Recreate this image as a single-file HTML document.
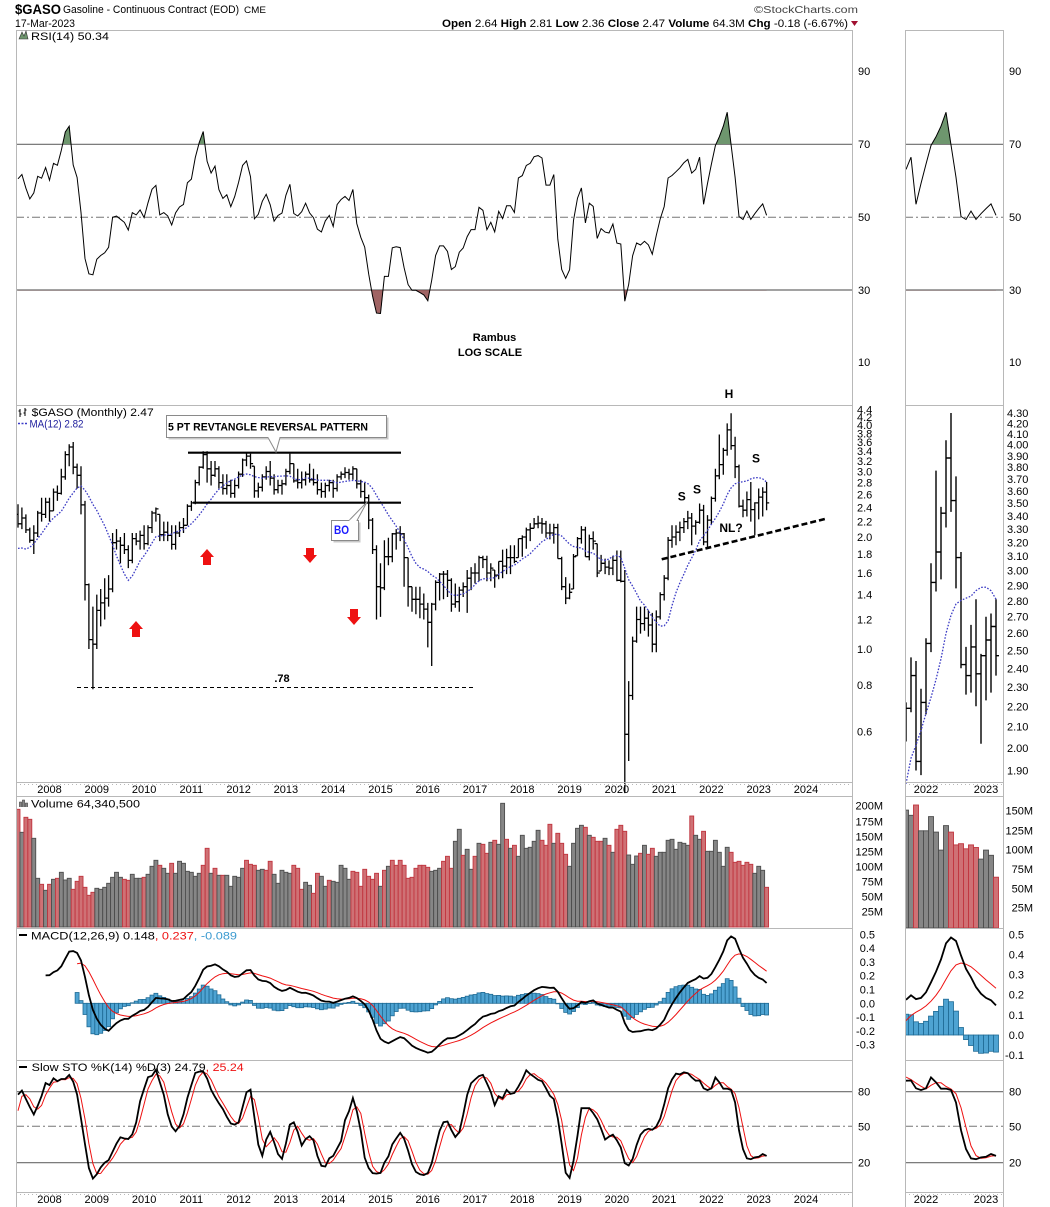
<!DOCTYPE html>
<html><head><meta charset="utf-8">
<style>
html,body{margin:0;padding:0;background:#fff;}
svg{display:block;}
text{font-family:"Liberation Sans",Arial,sans-serif;}
</style></head><body>
<svg id="c" width="1050" height="1207" viewBox="0 0 1050 1207" xmlns="http://www.w3.org/2000/svg">
<defs>
<clipPath id="chi"><rect x="16" y="30" width="837" height="114"/><rect x="905" y="30" width="98" height="114"/></clipPath>
<clipPath id="clo"><rect x="16" y="290" width="837" height="115"/><rect x="905" y="290" width="98" height="115"/></clipPath>
<clipPath id="cm"><rect x="17" y="0" width="835.5" height="1207"/></clipPath>
<clipPath id="ci"><rect x="906" y="0" width="97" height="1207"/></clipPath>
</defs>
<rect width="1050" height="1207" fill="#fff"/>

<!-- grid lines -->
<g stroke="#6a6a6a" stroke-width="1.2" fill="none">
<path d="M16 144.3H853M16 290H853M905 144.3H1003M905 290H1003"/>
<path d="M16 1091.7H853M16 1162.7H853M905 1091.7H1003M905 1162.7H1003"/>
</g>
<g stroke="#777" stroke-width="1" fill="none" stroke-dasharray="8,3,2,3">
<path d="M16 217.3H853M905 217.3H1003M16 1126.3H853M905 1126.3H1003"/>
</g>

<g id="dyn"></g>

<!-- annotations -->
<g>
<path d="M188 452.7H401M193 502.7H401" stroke="#000" stroke-width="2.2"/>
<path d="M77 687.5H476" stroke="#000" stroke-width="1" stroke-dasharray="4,3"/>
<path d="M661.7 559.3L827.7 518.3" stroke="#000" stroke-width="2.6" stroke-dasharray="6,3"/>
<rect x="168.5" y="417.5" width="220" height="22" fill="#c8c8c8"/>
<rect x="166.5" y="415.5" width="220" height="22" fill="#fff" stroke="#8a8a8a"/>
<path d="M268 437.5L276 452L280 437.5" fill="#fff" stroke="#8a8a8a"/>
<path d="M268.5 437.5H279.5" stroke="#fff" stroke-width="1.5"/>
<text x="168" y="430.5" font-size="11" font-weight="bold" textLength="200" lengthAdjust="spacingAndGlyphs">5 PT REVTANGLE REVERSAL PATTERN</text>
<rect x="333.5" y="522.5" width="27" height="20" fill="#c8c8c8"/>
<rect x="331.5" y="520.5" width="27" height="20" fill="#fff" stroke="#8a8a8a"/>
<path d="M349 520.5L367 502L357 520.5" fill="#fff" stroke="#8a8a8a"/>
<path d="M349.5 520.5H356.5" stroke="#fff" stroke-width="1.5"/>
<text x="334" y="534" font-size="12" font-weight="bold" fill="#1a1aff" textLength="15" lengthAdjust="spacingAndGlyphs">BO</text>
<g fill="#ee1111">
<path d="M207 549L214 557L211 557L211 565L203 565L203 557L200 557Z"/>
<path d="M136 621L143 629L140 629L140 637L132 637L132 629L129 629Z"/>
<path d="M306 548L314 548L314 555L317 555L310 563L303 555L306 555Z"/>
<path d="M350 609L358 609L358 617L361 617L354 625L347 617L350 617Z"/>
</g>
<g font-size="12" font-weight="bold" text-anchor="middle">
<text x="282" y="682" font-size="11">.78</text>
<text x="729" y="398">H</text>
<text x="681.7" y="500.5">S</text>
<text x="697" y="493.5">S</text>
<text x="756" y="462.5">S</text>
<text x="731" y="532">NL?</text>
<text x="494.5" y="341" font-size="11">Rambus</text>
<text x="490" y="356" font-size="11">LOG SCALE</text>
</g>
</g>

<!-- frames -->
<g fill="none" stroke="#b8b8b8" stroke-width="1">
<rect x="16.5" y="30.5" width="836" height="375"/>
<rect x="16.5" y="405.5" width="836" height="377"/>
<rect x="16.5" y="796.5" width="836" height="132"/>
<rect x="16.5" y="928.5" width="836" height="132"/>
<rect x="16.5" y="1060.5" width="836" height="132"/>
<path d="M16.5 782.5V796.5M852.5 782.5V796.5M16.5 1192.5V1207M852.5 1192.5V1207"/>
<rect x="905.5" y="30.5" width="98" height="375"/>
<rect x="905.5" y="405.5" width="98" height="377"/>
<rect x="905.5" y="796.5" width="98" height="132"/>
<rect x="905.5" y="928.5" width="98" height="132"/>
<rect x="905.5" y="1060.5" width="98" height="132"/>
<path d="M905.5 782.5V796.5M1003.5 782.5V796.5M905.5 1192.5V1207M1003.5 1192.5V1207"/>
</g>
<g fill="none" stroke="#b8b8b8" stroke-width="1" stroke-dasharray="1,3">
<path d="M16 784.5H853M905 784.5H1003M16 1194.5H853M905 1194.5H1003"/>
</g>

<!-- header -->
<text x="15" y="14" font-size="14" font-weight="bold" textLength="46" lengthAdjust="spacingAndGlyphs">$GASO</text>
<text x="63" y="13" font-size="11" textLength="176" lengthAdjust="spacingAndGlyphs">Gasoline - Continuous Contract (EOD)</text>
<text x="244" y="13" font-size="9" textLength="22" lengthAdjust="spacingAndGlyphs">CME</text>
<text x="15" y="27" font-size="11" textLength="60" lengthAdjust="spacingAndGlyphs">17-Mar-2023</text>
<text x="754" y="13" font-size="10" fill="#444" textLength="104" lengthAdjust="spacingAndGlyphs">©StockCharts.com</text>
<text x="442" y="27" font-size="11" textLength="406" lengthAdjust="spacingAndGlyphs"><tspan font-weight="bold">Open</tspan> 2.64 <tspan font-weight="bold">High</tspan> 2.81 <tspan font-weight="bold">Low</tspan> 2.36 <tspan font-weight="bold">Close</tspan> 2.47 <tspan font-weight="bold">Volume</tspan> 64.3M <tspan font-weight="bold">Chg</tspan> -0.18 (-6.67%)</text>
<path d="M851 21L858 21L854.5 26Z" fill="#a01030"/>

<!-- legends -->
<path d="M19 39L22 32L24 36L26 31L28 39Z" fill="#6e966e" stroke="#333" stroke-width="0.6"/>
<text x="31" y="40" font-size="11" textLength="78" lengthAdjust="spacingAndGlyphs">RSI(14) 50.34</text>
<path d="M20 409V417M18.5 411H20M20 414H21.5M25 408V416M23.5 413H25M25 410H26.5" stroke="#000" stroke-width="1"/>
<text x="31.7" y="416" font-size="11" textLength="122" lengthAdjust="spacingAndGlyphs">$GASO (Monthly) 2.47</text>
<path d="M18 423.5H28" stroke="#3a3ac8" stroke-width="1.5" stroke-dasharray="2,1.5"/>
<text x="29.5" y="427.5" font-size="11" fill="#1c1c9c" textLength="54" lengthAdjust="spacingAndGlyphs">MA(12) 2.82</text>
<path d="M19.5 807V802H21.5V807M22.5 807V800H24.5V807M25.5 807V803H27.5V807" fill="#888" stroke="#333" stroke-width="0.6"/>
<text x="31" y="807.5" font-size="11" textLength="109" lengthAdjust="spacingAndGlyphs">Volume 64,340,500</text>
<path d="M19 935H27" stroke="#000" stroke-width="2"/>
<text x="31" y="939.5" font-size="11" textLength="206" lengthAdjust="spacingAndGlyphs">MACD(12,26,9) 0.148<tspan fill="#ee1111">, 0.237</tspan><tspan fill="#3a9ad0">, -0.089</tspan></text>
<path d="M19 1067H27" stroke="#000" stroke-width="2"/>
<text x="31.7" y="1071" font-size="11" textLength="212" lengthAdjust="spacingAndGlyphs">Slow STO %K(14) %D(3) 24.79<tspan fill="#ee1111">, 25.24</tspan></text>

<!-- axis labels -->
<g font-size="11" fill="#000">
<text x="858" y="75">90</text><text x="858" y="148">70</text><text x="858" y="221">50</text><text x="858" y="294">30</text><text x="858" y="366">10</text>
<text x="1009" y="75">90</text><text x="1009" y="148">70</text><text x="1009" y="221">50</text><text x="1009" y="294">30</text><text x="1009" y="366">10</text>
<text x="857" y="413.6">4.4</text><text x="857" y="421.1">4.2</text><text x="857" y="429">4.0</text><text x="857" y="437.3">3.8</text><text x="857" y="446">3.6</text><text x="857" y="455.2">3.4</text><text x="857" y="465">3.2</text><text x="857" y="475.5">3.0</text><text x="857" y="486.6">2.8</text><text x="857" y="498.6">2.6</text><text x="857" y="511.5">2.4</text><text x="857" y="525.6">2.2</text><text x="857" y="541">2.0</text><text x="857" y="558">1.8</text><text x="857" y="577">1.6</text><text x="857" y="598.6">1.4</text><text x="857" y="623.5">1.2</text><text x="857" y="653">1.0</text><text x="857" y="689.1">0.8</text><text x="857" y="735.5">0.6</text>
<text x="1007" y="417">4.30</text><text x="1007" y="427.3">4.20</text><text x="1007" y="437.9">4.10</text><text x="1007" y="448.7">4.00</text><text x="1007" y="459.8">3.90</text><text x="1007" y="471.1">3.80</text><text x="1007" y="482.8">3.70</text><text x="1007" y="494.8">3.60</text><text x="1007" y="507.1">3.50</text><text x="1007" y="519.8">3.40</text><text x="1007" y="532.8">3.30</text><text x="1007" y="546.3">3.20</text><text x="1007" y="560.2">3.10</text><text x="1007" y="574.6">3.00</text><text x="1007" y="589.4">2.90</text><text x="1007" y="604.8">2.80</text><text x="1007" y="620.7">2.70</text><text x="1007" y="637.2">2.60</text><text x="1007" y="654.4">2.50</text><text x="1007" y="672.3">2.40</text><text x="1007" y="690.9">2.30</text><text x="1007" y="710.3">2.20</text><text x="1007" y="730.7">2.10</text><text x="1007" y="752">2.00</text><text x="1007" y="774.5">1.90</text>
<g text-anchor="end">
<text x="883" y="809.7">200M</text><text x="883" y="825.3">175M</text><text x="883" y="840.7">150M</text><text x="883" y="855.7">125M</text><text x="883" y="870.7">100M</text><text x="883" y="885.7">75M</text><text x="883" y="900.7">50M</text><text x="883" y="915.7">25M</text>
<text x="1033" y="814.7">150M</text><text x="1033" y="834.5">125M</text><text x="1033" y="853.7">100M</text><text x="1033" y="872.9">75M</text><text x="1033" y="892.7">50M</text><text x="1033" y="911.7">25M</text>
<text x="875" y="938.3">0.5</text><text x="875" y="952.1">0.4</text><text x="875" y="965.9">0.3</text><text x="875" y="979.7">0.2</text><text x="875" y="993.5">0.1</text><text x="875" y="1007.3">0.0</text><text x="875" y="1021.1">-0.1</text><text x="875" y="1034.9">-0.2</text><text x="875" y="1048.7">-0.3</text>
<text x="1024" y="938.3">0.5</text><text x="1024" y="958.5">0.4</text><text x="1024" y="978.6">0.3</text><text x="1024" y="998.7">0.2</text><text x="1024" y="1018.9">0.1</text><text x="1024" y="1039">0.0</text><text x="1024" y="1059.1">-0.1</text>
</g>
<text x="858" y="1095.7">80</text><text x="858" y="1130.3">50</text><text x="858" y="1166.7">20</text>
<text x="1009" y="1095.7">80</text><text x="1009" y="1130.3">50</text><text x="1009" y="1166.7">20</text>
<g text-anchor="middle">
<text x="49.5" y="793">2008</text><text x="96.8" y="793">2009</text><text x="144.1" y="793">2010</text><text x="191.3" y="793">2011</text><text x="238.6" y="793">2012</text><text x="285.9" y="793">2013</text><text x="333.2" y="793">2014</text><text x="380.5" y="793">2015</text><text x="427.7" y="793">2016</text><text x="475" y="793">2017</text><text x="522.3" y="793">2018</text><text x="569.6" y="793">2019</text><text x="616.9" y="793">2020</text><text x="664.1" y="793">2021</text><text x="711.4" y="793">2022</text><text x="758.7" y="793">2023</text><text x="806" y="793">2024</text>
<text x="926" y="793">2022</text><text x="986" y="793">2023</text>
<text x="49.5" y="1203">2008</text><text x="96.8" y="1203">2009</text><text x="144.1" y="1203">2010</text><text x="191.3" y="1203">2011</text><text x="238.6" y="1203">2012</text><text x="285.9" y="1203">2013</text><text x="333.2" y="1203">2014</text><text x="380.5" y="1203">2015</text><text x="427.7" y="1203">2016</text><text x="475" y="1203">2017</text><text x="522.3" y="1203">2018</text><text x="569.6" y="1203">2019</text><text x="616.9" y="1203">2020</text><text x="664.1" y="1203">2021</text><text x="711.4" y="1203">2022</text><text x="758.7" y="1203">2023</text><text x="806" y="1203">2024</text>
<text x="926" y="1203">2022</text><text x="986" y="1203">2023</text>
</g>
</g>
</svg>
<script>
(function(){
var warm=[1.45,1.70,1.85,1.50,1.95,2.20,2.05,2.20,2.25,1.70,1.55,1.55,1.60,1.55,1.50,1.90,2.10,2.30];
var D=[[2.45,2.12,2.17],[2.40,2.10,2.25],[2.30,2.05,2.09],[2.12,1.93,1.96],[2.15,1.80,2.05],[2.35,2.00,2.32],[2.55,2.20,2.30],[2.55,2.25,2.48],[2.55,2.20,2.35],[2.70,2.35,2.64],
[2.75,2.50,2.62],[3.05,2.60,2.90],[3.40,2.85,3.33],[3.55,3.10,3.49],[3.60,2.95,3.08],[3.15,2.70,2.93],[3.10,2.30,2.44],[2.50,1.35,1.49],[1.50,1.00,1.06],[1.30,0.78,1.03],
[1.40,1.00,1.27],[1.45,1.15,1.33],[1.55,1.20,1.37],[1.58,1.30,1.45],[2.05,1.42,1.93],[2.10,1.85,1.95],[2.00,1.70,1.90],[2.05,1.80,1.85],[1.90,1.65,1.73],[2.05,1.70,1.98],
[2.05,1.90,1.95],[2.08,1.85,2.02],[2.15,1.85,1.92],[2.15,1.90,2.12],[2.35,2.05,2.32],[2.40,2.20,2.38],[2.30,1.95,2.03],[2.20,1.95,2.06],[2.20,1.95,2.02],[2.15,1.85,1.91],
[2.15,1.85,2.05],[2.20,2.00,2.12],[2.25,2.05,2.15],[2.45,2.15,2.42],[2.50,2.35,2.47],[2.85,2.45,2.80],[3.10,2.75,3.08],[3.40,3.05,3.33],[3.40,2.80,3.05],[3.20,2.75,2.93],
[3.20,2.90,3.05],[3.10,2.70,2.80],[2.95,2.60,2.70],[2.95,2.60,2.75],[2.85,2.55,2.62],[2.85,2.55,2.75],[3.00,2.70,2.95],[3.25,2.90,3.22],[3.38,3.10,3.30],[3.35,3.05,3.15],
[3.10,2.55,2.66],[2.80,2.55,2.72],[2.95,2.65,2.90],[3.10,2.85,3.00],[3.20,2.75,2.88],[2.95,2.60,2.68],[2.85,2.62,2.75],[2.85,2.60,2.78],[3.05,2.75,3.00],[3.35,2.95,3.15],
[3.15,2.80,2.83],[3.05,2.70,2.80],[3.00,2.70,2.85],[3.00,2.75,2.95],[3.15,2.80,2.85],[3.05,2.75,2.80],[2.95,2.60,2.68],[2.80,2.55,2.65],[2.80,2.55,2.75],[2.85,2.65,2.80],
[2.85,2.55,2.70],[2.95,2.65,2.90],[3.00,2.85,2.95],[3.08,2.88,2.98],[3.05,2.85,2.95],[3.10,2.85,3.05],[3.05,2.70,2.78],[2.85,2.55,2.65],[2.80,2.45,2.55],[2.60,2.10,2.22],
[2.25,1.80,1.85],[1.90,1.20,1.47],[1.70,1.22,1.46],[1.96,1.44,1.77],[1.99,1.68,1.77],[2.05,1.71,2.04],[2.10,1.85,2.05],[2.14,1.95,2.04],[2.05,1.47,1.76],[1.76,1.30,1.47],
[1.47,1.26,1.36],[1.47,1.24,1.36],[1.47,1.21,1.32],[1.41,1.20,1.28],[1.33,1.01,1.18],[1.33,0.90,1.32],[1.53,1.27,1.51],[1.60,1.35,1.59],[1.62,1.36,1.59],[1.63,1.38,1.53],
[1.55,1.26,1.32],[1.50,1.29,1.34],[1.47,1.26,1.44],[1.51,1.38,1.47],[1.63,1.25,1.55],[1.66,1.44,1.60],[1.70,1.50,1.60],[1.78,1.52,1.76],[1.78,1.65,1.74],[1.78,1.52,1.60],
[1.70,1.52,1.65],[1.63,1.46,1.58],[1.72,1.54,1.72],[1.85,1.55,1.67],[1.86,1.59,1.76],[1.90,1.59,1.76],[1.90,1.70,1.72],[1.98,1.76,1.98],[2.02,1.77,2.00],[2.12,1.86,2.09],
[2.18,1.95,2.11],[2.25,2.11,2.17],[2.28,2.11,2.18],[2.25,2.04,2.17],[2.21,1.99,2.05],[2.17,1.97,2.05],[2.17,1.92,2.12],[2.17,1.75,1.75],[1.77,1.44,1.47],[1.56,1.32,1.37],
[1.50,1.36,1.42],[1.80,1.45,1.77],[2.00,1.78,1.98],[2.14,1.92,2.09],[2.13,1.77,1.77],[2.03,1.73,1.98],[2.07,1.85,1.95],[1.92,1.56,1.60],[1.79,1.62,1.70],[1.75,1.59,1.66],
[1.73,1.58,1.65],[1.78,1.58,1.73],[1.84,1.52,1.53],[1.84,1.51,1.52],[1.63,0.41,0.59],[0.82,0.50,0.75],[1.08,0.73,1.05],[1.30,1.04,1.20],[1.30,1.10,1.17],[1.30,1.12,1.21],
[1.27,1.08,1.16],[1.25,0.98,1.03],[1.27,0.98,1.22],[1.42,1.20,1.40],[1.58,1.35,1.55],[2.00,1.53,1.96],[2.15,1.87,2.00],[2.15,1.90,2.06],[2.20,1.95,2.12],[2.25,2.05,2.20],
[2.35,2.10,2.25],[2.32,1.90,2.14],[2.22,2.03,2.19],[2.46,2.17,2.36],[2.44,1.90,1.94],[2.29,1.88,2.22],[2.57,2.16,2.54],[3.05,2.49,2.92],[3.77,2.86,3.13],[3.47,2.94,3.42],
[4.04,3.31,3.88],[4.30,3.43,3.52],[3.72,2.88,3.09],[3.13,2.40,2.42],[2.52,2.26,2.36],[2.65,2.27,2.52],[2.81,2.20,2.37],[2.48,2.02,2.47],[2.70,2.23,2.56],[2.72,2.27,2.64],
[2.81,2.36,2.47]];
var VT=[809.3,832.3,817.3,819.3,838.3,878.3,884.3,890.3,884.3,879.3,
878.3,872.3,880,878.3,889.3,881.3,876.3,887.3,895.3,892.3,
888.3,889.3,887.3,883.3,877.3,872.3,877.3,879.3,880.3,874.3,
878.3,878.3,877.3,874.3,866.3,860.3,865.3,868.3,873.3,863.3,
873.3,861.3,863.3,871.3,872.3,876.3,873.3,865.3,848.3,873.3,
868.3,875.3,875.3,875.3,886.3,876.3,877.3,868.3,860.3,864.3,
865.3,870.3,869.3,870.3,861.3,874.3,883.3,870.3,872.3,873.3,
865.3,868.3,889.3,882.3,885.3,893.3,873.3,876.3,886.3,880.3,
881.3,882.3,865.3,868.3,879.3,871.3,872.3,886.3,869.3,876.3,
879.3,873.3,886.3,870.3,866.3,860.3,865.3,
860.3,865.3,878.3,877.3,868.3,865.3,865.3,867.3,871.3,870.3,
868.3,861.3,856.3,868.3,841.3,829.3,855.3,849.3,869.3,856.3,
843.3,844.3,853.3,842.3,840.3,844.3,803.3,839.3,848.3,845.3,
856.3,835.3,848.3,847.3,841.3,830.3,840.3,845.3,824.3,843.3,
833.3,843.3,854.3,866.3,843.3,828.3,825.3,827.3,835.3,837.3,
841.3,841.3,838.3,845.3,852.3,829.3,825.3,831.3,
855,864.3,856,853.3,845.3,854.3,848.3,856.3,852.3,852.3,
840.3,839.3,849.3,842.3,843.3,845.3,816,835.3,839.3,831.3,
851.3,851.3,840.3,852.3,866.3,847.3,852.3,862.3,861.3,865.3,
862.3,864.3,873.3,866.3,870.3,887.3];
var VC="rgrrggrgrg"+"rgggrrrrrr"+"gggggggrrg"+"ggrgggrggr"+"gggggggrrg"+"rgrgggggrr"+"rggrrggggg"+"rrrggrrggr"+"gggggrrrrr"+"rrgrgrr"+
"rrrrrrrrgg"+"grrrggrggr"+"grrgrggrgr"+"ggggggrrrg"+"rrrggggrgr"+"rrgrgrrr"+"gggrgrrggg"+"ggggggrggr"+"ggggggrrrr"+"rrgggr";
var N0=warm.length,H=[],L=[],C=[],k,j,i;
warm.forEach(function(w){H.push(w*1.06);L.push(w*0.94);C.push(w);});
D.forEach(function(d){H.push(d[0]);L.push(d[1]);C.push(d[2]);});
var n=C.length,last=D.length-1;
function sma(a,p){var r=[];for(var k=0;k<a.length;k++){if(k<p-1||a[k-p+1]==null){r.push(null);continue;}var s=0;for(var j=k-p+1;j<=k;j++)s+=a[j];r.push(s/p);}return r;}
function ema(a,p){var r=[],prev=null,start=-1,m=2/(p+1);for(var k=0;k<a.length;k++){if(a[k]==null){r.push(null);continue;}if(start<0)start=k;if(k-start<p-1){r.push(null);continue;}if(prev===null){var s=0;for(var j=k-p+1;j<=k;j++)s+=a[j];prev=s/p;}else prev=(a[k]-prev)*m+prev;r.push(prev);}return r;}
var rsi=[null],ag=0,al=0;
for(k=1;k<n;k++){var ch=C[k]-C[k-1],g=ch>0?ch:0,l=ch<0?-ch:0;
 if(k<14){ag+=g;al+=l;rsi.push(null);}
 else if(k==14){ag=(ag+g)/14;al=(al+l)/14;rsi.push(100-100/(1+ag/al));}
 else{ag=(ag*13+g)/14;al=(al*13+l)/14;rsi.push(100-100/(1+ag/al));}}
var ma=sma(C,12),e12=ema(C,12),e26=ema(C,26);
var macd=C.map(function(_,k){return (e12[k]!=null&&e26[k]!=null)?e12[k]-e26[k]:null;});
var sig=ema(macd,9);
var hist=macd.map(function(v,k){return (v!=null&&sig[k]!=null)?v-sig[k]:null;});
var fk=[];for(k=0;k<n;k++){if(k<13){fk.push(null);continue;}var hh=-1e9,ll=1e9;for(j=k-13;j<=k;j++){if(H[j]>hh)hh=H[j];if(L[j]<ll)ll=L[j];}fk.push(hh>ll?(C[k]-ll)/(hh-ll)*100:50);}
var sk=sma(fk,3),sd=sma(sk,3);
function X(i){return 18+i*3.94;}
function XI(i){return 906+(i-172)*5;}
function PY(p){return 649-161.6*Math.log(p);}
function PYI(p){return 770.5-437.7*Math.log(p/1.9);}
function RY(v){return 217.3-(v-50)*3.65;}
function MY(v){return 1003.3-v*138;}
function MYI(v){return 1035-v*201;}
function SY(v){return 1126.3-(v-50)*1.183;}
function f(v){return v.toFixed(1);}
function pl(arr,xf,yf,i0,i1){var s='';for(var i=i0;i<=i1;i++){var v=arr[i+N0];if(v==null||isNaN(v))continue;s+=(s?'L':'M')+f(xf(i))+','+f(yf(v));}return s;}
function fillP(xf,i0,i1,base){var s='M'+f(xf(i0))+','+base;for(var i=i0;i<=i1;i++)s+='L'+f(xf(i))+','+f(RY(rsi[i+N0]));return s+'L'+f(xf(i1))+','+base+'Z';}
var out='';
// RSI fills
out+='<g clip-path="url(#chi)"><path d="'+fillP(X,0,last,144.3)+fillP(XI,172,last,144.3)+'" fill="#6e966e" stroke="#3d5a3d" stroke-width="0.5"/></g>';
out+='<g clip-path="url(#clo)"><path d="'+fillP(X,0,last,290)+fillP(XI,172,last,290)+'" fill="#a06464" stroke="#5a3030" stroke-width="0.5"/></g>';
// main group
var m='';
m+='<path d="'+pl(rsi,X,RY,0,last)+'" fill="none" stroke="#000" stroke-width="1"/>';
// price bars
var pb='';
for(i=0;i<=last;i++){k=i+N0;var x=X(i);var o=Math.min(Math.max(C[k-1],L[k]),H[k]);
pb+='M'+f(x)+' '+f(PY(H[k]))+'V'+f(PY(L[k]))+'M'+f(x-2.6)+' '+f(PY(o))+'H'+f(x)+'M'+f(x)+' '+f(PY(C[k]))+'H'+f(x+2.6);}
m+='<path d="'+pb+'" fill="none" stroke="#000" stroke-width="1.3"/>';
m+='<path d="'+pl(ma,X,PY,0,last)+'" fill="none" stroke="#3b3bc4" stroke-width="1.3" stroke-dasharray="1.6,1.6"/>';
// volume
for(i=0;i<=last;i++){var x=X(i),t=VT[i],r=VC[i]=='r';
m+='<rect x="'+(x-1.97).toFixed(2)+'" y="'+f(t)+'" width="3.94" height="'+f(927-t)+'" fill="'+(r?'#cf7175':'#868686')+'" stroke="'+(r?'#c0353f':'#4d4d4d')+'" stroke-width="0.9"/>';}
// macd hist
var hb='';
for(i=0;i<=last;i++){var h=hist[i+N0];if(h==null)continue;var y0=MY(0),y1=MY(h);
hb+='<rect x="'+(X(i)-1.97).toFixed(2)+'" y="'+f(Math.min(y0,y1))+'" width="3.94" height="'+Math.max(0.5,Math.abs(y1-y0)).toFixed(1)+'"/>';}
m+='<g fill="#4ea3d2" stroke="#1e6a94" stroke-width="0.8">'+hb+'</g>';
m+='<path d="'+pl(sig,X,MY,0,last)+'" fill="none" stroke="#ee1111" stroke-width="1"/>';
m+='<path d="'+pl(macd,X,MY,0,last)+'" fill="none" stroke="#000" stroke-width="1.8"/>';
m+='<path d="'+pl(sd,X,SY,0,last)+'" fill="none" stroke="#ee1111" stroke-width="1"/>';
m+='<path d="'+pl(sk,X,SY,0,last)+'" fill="none" stroke="#000" stroke-width="1.8"/>';
out+='<g clip-path="url(#cm)">'+m+'</g>';
// inset
var s='';
s+='<path d="'+pl(rsi,XI,RY,172,last)+'" fill="none" stroke="#000" stroke-width="1"/>';
var ib='';
for(i=172;i<=last;i++){k=i+N0;var x=XI(i);var o=Math.min(Math.max(C[k-1],L[k]),H[k]);
ib+='M'+f(x)+' '+f(PYI(H[k]))+'V'+f(PYI(L[k]))+'M'+f(x-3)+' '+f(PYI(o))+'H'+f(x)+'M'+f(x)+' '+f(PYI(C[k]))+'H'+f(x+3);}
s+='<path d="'+ib+'" fill="none" stroke="#000" stroke-width="1.4"/>';
s+='<path d="'+pl(ma,XI,PYI,172,last)+'" fill="none" stroke="#3b3bc4" stroke-width="1.3" stroke-dasharray="1.6,1.6"/>';
for(i=172;i<=last;i++){var x=XI(i),v=(926-VT[i])/0.6017;if(i==last)v=64.3;var t=927.1-v*0.776,r=VC[i]=='r';
s+='<rect x="'+f(x-2.5)+'" y="'+f(t)+'" width="5" height="'+f(928-t)+'" fill="'+(r?'#cf7175':'#868686')+'" stroke="'+(r?'#c0353f':'#4d4d4d')+'" stroke-width="0.9"/>';}
var hi='';
for(i=172;i<=last;i++){var h=hist[i+N0];if(h==null)continue;var y0=MYI(0),y1=MYI(h);
hi+='<rect x="'+f(XI(i)-2.5)+'" y="'+f(Math.min(y0,y1))+'" width="5" height="'+Math.max(0.5,Math.abs(y1-y0)).toFixed(1)+'"/>';}
s+='<g fill="#4ea3d2" stroke="#1e6a94" stroke-width="0.8">'+hi+'</g>';
s+='<path d="'+pl(sig,XI,MYI,172,last)+'" fill="none" stroke="#ee1111" stroke-width="1"/>';
s+='<path d="'+pl(macd,XI,MYI,172,last)+'" fill="none" stroke="#000" stroke-width="1.8"/>';
s+='<path d="'+pl(sd,XI,SY,172,last)+'" fill="none" stroke="#ee1111" stroke-width="1"/>';
s+='<path d="'+pl(sk,XI,SY,172,last)+'" fill="none" stroke="#000" stroke-width="1.8"/>';
out+='<g clip-path="url(#ci)">'+s+'</g>';
document.getElementById('dyn').innerHTML=out;
})();
</script>
</body></html>
